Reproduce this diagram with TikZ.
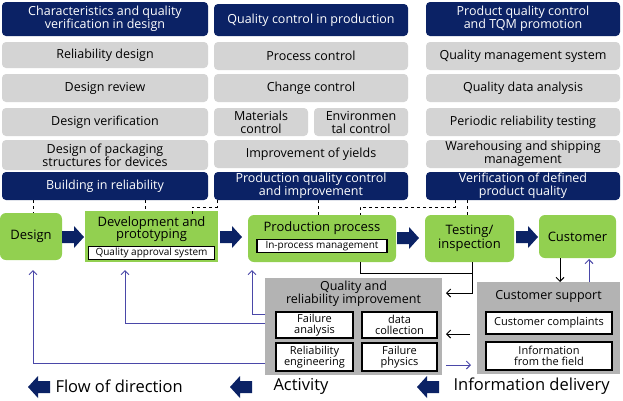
\documentclass[tikz,border=0pt]{standalone}
\usepackage{fontspec}
\setmainfont{Open Sans}
\usetikzlibrary{arrows.meta}
\definecolor{navy}{HTML}{0B2265}
\definecolor{lgray}{HTML}{D4D4D4}
\definecolor{dgray}{HTML}{B3B3B3}
\definecolor{grn}{HTML}{92D050}
\definecolor{blu}{HTML}{4A48A8}
\newcommand{\blkarrow}[3]{% x y dir(1 right, -1 left)
 \fill[navy] ({#1-11*#3},{#2-6}) -- ({#1+1*#3},{#2-6}) -- ({#1+1*#3},{#2-11}) -- ({#1+11*#3},{#2}) -- ({#1+1*#3},{#2+11}) -- ({#1+1*#3},{#2+6}) -- ({#1-11*#3},{#2+6}) -- cycle;}
\begin{document}
\begin{tikzpicture}[x=1pt,y=-1pt,
 hdr/.style={fill=navy,text=white,rounded corners=4pt,inner sep=1pt,align=center,font=\fontsize{12.5}{13}\selectfont},
 gb/.style={fill=lgray,rounded corners=4pt,inner sep=1pt,align=center,font=\fontsize{12.5}{13}\selectfont},
 gr/.style={fill=grn,rounded corners=6pt,inner sep=1pt,align=center,font=\fontsize{13}{13.5}\selectfont},
 wb/.style={fill=white,draw=black,line width=1.2pt,inner sep=1pt,align=center,font=\fontsize{11}{11.5}\selectfont},
 big/.style={fill=dgray,inner sep=0pt},
 dsh/.style={dashed,line width=0.8pt},
 bl/.style={blu,line width=1pt,-{Straight Barb[length=4pt]}},
 bk/.style={black,line width=1pt,-{Straight Barb[length=4pt]}},
 lg/.style={font=\fontsize{16.5}{17}\selectfont,anchor=west}]
\useasboundingbox (0,0) rectangle (623,400);
\fill[white] (0,0) rectangle (623,400);
% headers
\node[hdr,minimum width=206,minimum height=34] (h1) at (105,19) {Characteristics and quality\\verification in design};
\node[hdr,minimum width=194,minimum height=32] (h2) at (311,20) {Quality control in production};
\node[hdr,minimum width=194,minimum height=34] (h3) at (523,19) {Product quality control\\and TQM promotion};
% column 1
\node[gb,minimum width=206,minimum height=26] (a1) at (105,55) {Reliability design};
\node[gb,minimum width=206,minimum height=28] (a2) at (105,88) {Design review};
\node[gb,minimum width=206,minimum height=28] (a3) at (105,122) {Design verification};
\node[gb,minimum width=206,minimum height=30] (a4) at (105,155) {Design of packaging\\structures for devices};
\node[hdr,minimum width=206,minimum height=28] (f1) at (105,186) {Building in reliability};
% column 2
\node[gb,minimum width=194,minimum height=28] (b1) at (311,56) {Process control};
\node[gb,minimum width=194,minimum height=28] (b2) at (311,88) {Change control};
\node[gb,minimum width=94,minimum height=28] (b3) at (261,122) {Materials\\control};
\node[gb,minimum width=94,minimum height=28] (b4) at (361,122) {Environmen\\tal control};
\node[gb,minimum width=194,minimum height=28] (b5) at (311,154) {Improvement of yields};
\node[hdr,minimum width=194,minimum height=28] (f2) at (311,186) {Production quality control\\and improvement};
% column 3
\node[gb,minimum width=194,minimum height=28] (c1) at (523,56) {Quality management system};
\node[gb,minimum width=194,minimum height=28] (c2) at (523,88) {Quality data analysis};
\node[gb,minimum width=194,minimum height=28] (c3) at (523,122) {Periodic reliability testing};
\node[gb,minimum width=194,minimum height=28] (c4) at (523,154) {Warehousing and shipping\\management};
\node[hdr,minimum width=194,minimum height=28] (f3) at (523,186) {Verification of defined\\product quality};
% green row
\node[gr,minimum width=62,minimum height=47] (design) at (31,236.5) {Design};
\fill[grn] (85,211) rectangle (218,262);
\node[font=\fontsize{13}{13.5}\selectfont,align=center] (dev) at (151.5,229) {Development and\\[-2pt]prototyping};
\node[wb,minimum width=126,minimum height=13,font=\fontsize{10}{10.5}\selectfont] (qas) at (151.5,253) {Quality approval system};
\node[gr,minimum width=148,minimum height=47] (prod) at (322,238.5) {};
\node[font=\fontsize{13}{13.5}\selectfont] (prodt) at (322,228) {Production process};
\node[wb,minimum width=130,minimum height=13,font=\fontsize{10}{10.5}\selectfont] (ipm) at (322,246) {In-process management};
\node[gr,minimum width=89,minimum height=47] (test) at (469.5,238.5) {Testing/\\inspection};
\node[gr,minimum width=77,minimum height=43] (cust) at (577.5,236.5) {Customer};
\blkarrow{73}{237}{1}
\blkarrow{231}{237}{1}
\blkarrow{408}{238}{1}
\blkarrow{527}{237}{1}
% dashed
\draw[dsh] (33,200) -- (33,213);
\draw[dsh] (145,200) -- (145,211);
\draw[dsh] (217,200) -- (217,207) -- (192,207) -- (192,214);
\draw[dsh] (318,200) -- (318,215);
\draw[dsh] (455,200) -- (455,207) -- (360,207) -- (360,215);
\draw[dsh] (467,200) -- (467,215);
% quality box
\node[big,minimum width=177,minimum height=97] (qbox) at (353.5,326.5) {};
\node[align=center,font=\fontsize{12.5}{13}\selectfont] (qt) at (353.5,294) {Quality and\\reliability improvement};
\node[wb,minimum width=77,minimum height=26] (fa) at (314.5,325) {Failure\\analysis};
\node[wb,minimum width=75,minimum height=26] (dc) at (399.5,325) {data\\collection};
\node[wb,minimum width=77,minimum height=28] (re) at (314.5,357) {Reliability\\engineering};
\node[wb,minimum width=75,minimum height=28] (fp) at (399.5,357) {Failure\\physics};
% customer support box
\node[big,minimum width=143,minimum height=92] (cbox) at (548.5,328) {};
\node[font=\fontsize{12.5}{13}\selectfont] (ct) at (548.5,296) {Customer support};
\node[wb,minimum width=126,minimum height=22] (cc) at (549,323) {Customer complaints};
\node[wb,minimum width=126,minimum height=28] (inf) at (549,356) {Information\\from the field};
% black connectors
\draw[line width=1pt] (360,262) -- (360,273) -- (472,273);
\draw[bk] (472,262) -- (472,293) -- (446,293);
\draw[bk] (560,258) -- (560,282);
\draw[bl] (589,282) -- (589,259);
\draw[bk] (470,334) -- (446,334);
\draw[bl] (446,365) -- (471,365);
% blue feedback
\draw[bl] (265,314) -- (252,314) -- (252,270);
\draw[bl] (265,323) -- (125,323) -- (125,270);
\draw[bl] (265,363) -- (33,363) -- (33,270);
% legend
\blkarrow{39}{387}{-1}
\node[lg] (t1) at (52,386) {Flow of direction};
\blkarrow{241}{387}{-1}
\node[lg] (t2) at (270,386) {Activity};
\blkarrow{428}{387}{-1}
\node[lg] (t3) at (450,386) {Information delivery};
\end{tikzpicture}
\end{document}
